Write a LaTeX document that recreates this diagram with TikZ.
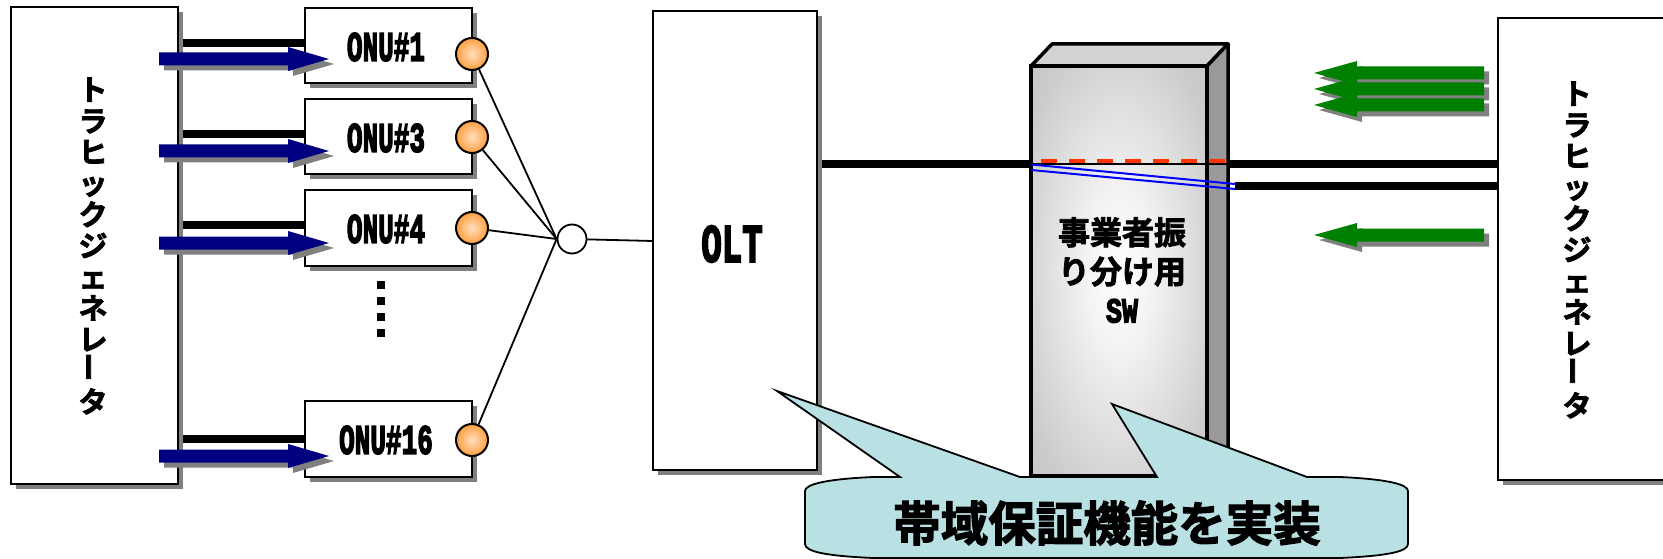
\documentclass[tikz,border=0pt]{standalone}
\usepackage{fontspec}
\usepackage{graphicx}
\newfontfamily\cjkb[FakeBold=2.5]{Noto Sans CJK JP Bold}
\newfontfamily\latb[FakeBold=4]{Liberation Mono Bold}
\pgfdeclareradialshading{swshade}{\pgfpoint{0bp}{0bp}}{color(0bp)=(white); color(10bp)=(white!95!black); color(30bp)=(white!80!black); color(40bp)=(white!76!black); color(50bp)=(white!74!black)}
\definecolor{navyb}{HTML}{000080}
\definecolor{greena}{HTML}{008000}
\definecolor{shadowg}{HTML}{808080}
\definecolor{calloutc}{HTML}{B9E0E3}
\definecolor{orangec}{HTML}{FF9F3F}
\definecolor{redd}{HTML}{FF3300}
\tikzset{
  x=1pt,y=-1pt,
  boxs/.style={draw=black,line width=2.5pt,fill=white,outer sep=0pt,inner sep=0pt,anchor=north west},
  shad/.style={fill=shadowg,draw=none},
  wire/.style={line width=8pt,black},
  fibre/.style={line width=1.8pt,black},
  port/.style={circle,draw=black,line width=2pt,minimum size=32pt,inner sep=0pt,inner color=orange!25!white,outer color=orangec},
  split/.style={circle,draw=black,line width=1.8pt,fill=white,minimum size=29pt,inner sep=0pt},
  labelj/.style={text=black,inner sep=0pt,align=center},
  stackfont/.style={font=\cjkb\fontsize{29}{31.2}\selectfont},
}
\newcommand{\onutext}[1]{\scalebox{0.62}[1]{\latb\fontsize{42}{42}\selectfont #1}}
\newcommand{\rarrowblue}[2]{%
 \fill[shadowg] (#1+5,#2+5-6.5)--(#1+134,#2+5-6.5)--(#1+134,#2+5-12)--(#1+175,#2+5)--(#1+134,#2+5+12)--(#1+134,#2+5+6.5)--(#1+5,#2+5+6.5)--cycle;
 \fill[navyb] (#1,#2-6.5)--(#1+129,#2-6.5)--(#1+129,#2-12)--(#1+170,#2)--(#1+129,#2+12)--(#1+129,#2+6.5)--(#1,#2+6.5)--cycle;}
\newcommand{\larrowshadow}[1]{%
 \fill[shadowg] (1319,#1+5)--(1362,#1+5-12)--(1362,#1+5-6.5)--(1489,#1+5-6.5)--(1489,#1+5+6.5)--(1362,#1+5+6.5)--(1362,#1+5+12)--cycle;}
\newcommand{\larrowgreen}[1]{%
 \fill[greena] (1314,#1)--(1357,#1-12)--(1357,#1-6.5)--(1484,#1-6.5)--(1484,#1+6.5)--(1357,#1+6.5)--(1357,#1+12)--cycle;}
\newcommand{\stackj}{ト\\ラ\\ヒ\\ッ\\ク\\ジ\\ェ\\ネ\\レ\\\rotatebox{90}{ー}\\タ}
\begin{document}
\begin{tikzpicture}
\useasboundingbox (0,0) rectangle (1663,559);
\clip (0,0) rectangle (1663,559);
% traffic generator left
\fill[shad] (16,12) rectangle (183,489);
\node[boxs,minimum width=167pt,minimum height=477pt] (genl) at (11,7) {};
\node[labelj,stackfont] (genlt) at (93,246) {\stackj};
% ONU rows
\foreach \nm/\yt/\yb/\wy/\ay/\py/\lab in {a/8/83/43.5/59/54/ONU\#1,b/99/174/134/151/137/ONU\#3,c/190/266/225/243/228/ONU\#4,d/401/477/439/456/440/ONU\#16}{
  \fill[shad] (310,\yt+5) rectangle (477,\yb+5);
  \node[boxs,minimum width=167pt,minimum height=\yb-\yt] (onu\nm) at (305,\yt) {};
  \coordinate (wl\nm) at (183,\wy);
  \coordinate (wr\nm) at (305,\wy);
  \draw[wire] (wl\nm) -- (wr\nm);
  \rarrowblue{159}{\ay}
  \node[inner sep=0pt] (onut\nm) at (386,\yt+39) {\onutext{\lab}};
  \node[port] (port\nm) at (472,\py) {};
}
% dots
\foreach \k in {0,1,2,3}{\fill (377,281+\k*16) rectangle (385,289+\k*16);}
% OLT
\fill[shad] (658,16) rectangle (822,475);
\node[boxs,minimum width=164pt,minimum height=459pt] (olt) at (653,11) {};
\node[inner sep=0pt] (oltt) at (732,244) {\scalebox{0.63}[1]{\latb\fontsize{54}{54}\selectfont OLT}};
% splitter
\node[split] (spl) at (572,239) {};
\foreach \nm in {a,b,c,d}{\draw[fibre] (port\nm) -- (spl.west);}
\coordinate (oltl) at (653,241);
\draw[fibre] (spl) -- (oltl);
% switch
\coordinate (m1) at (822,164);
\coordinate (m2) at (1031,164);
\coordinate (m3) at (1228,164);
\coordinate (m4) at (1498,164);
\coordinate (n1) at (1235,186);
\coordinate (n2) at (1498,186);
\draw[wire] (m1) -- (m2);
\draw[wire] (m3) -- (m4);
\draw[wire] (n1) -- (n2);
\fill[gray!35,draw=black,line width=3.5pt,line join=round] (1031,66) -- (1052,44) -- (1228,44) -- (1207,66) -- cycle;
\fill[black!40,draw=black,line width=3.5pt,line join=round] (1207,66) -- (1228,44) -- (1228,455) -- (1207,476) -- cycle;
\shade[shading=swshade,draw=black,line width=3.5pt] (1031,66) rectangle (1207,476);
\draw[black,line width=1.5pt] (1031,164) -- (1228,164);
\draw[line width=4pt,color=redd,dash pattern=on 16pt off 12pt] (1041,161) -- (1226,161);
\draw[blue,line width=2pt] (1031,164.5) -- (1235,184);
\draw[blue,line width=2pt] (1031,170) -- (1235,189);
\node[labelj,font=\cjkb\fontsize{32}{39}\selectfont] (swt) at (1122,270) {事業者振\\り分け用\\{\scalebox{0.76}[1]{\latb\fontsize{35}{35}\selectfont SW}}};
% green arrows
\foreach \yy in {73,89,105,235}{\larrowshadow{\yy}}
\foreach \yy in {73,89,105,235}{\larrowgreen{\yy}}
% traffic generator right
\fill[shad] (1503,23) rectangle (1680,485);
\node[boxs,minimum width=180pt,minimum height=462pt] (genr) at (1498,18) {};
\node[labelj,stackfont] (genrt) at (1577,250) {\stackj};
% callout
\filldraw[fill=calloutc,draw=black,line width=1.8pt,line join=miter]
 (900,477) -- (777,391) -- (1020,477) -- (1157,477) -- (1112,404) -- (1307,477) -- (1340,477)
 .. controls (1385,479) and (1408,484) .. (1408,491)
 -- (1408,544) .. controls (1408,552) and (1385,556) .. (1340,558)
 -- (873,558) .. controls (828,556) and (805,552) .. (805,544)
 -- (805,491) .. controls (805,484) and (828,479) .. (873,477) -- cycle;
\node[labelj,font=\cjkb\fontsize{47.5}{48}\selectfont] (callt) at (1107,523) {帯域保証機能を実装};
\end{tikzpicture}
\end{document}
